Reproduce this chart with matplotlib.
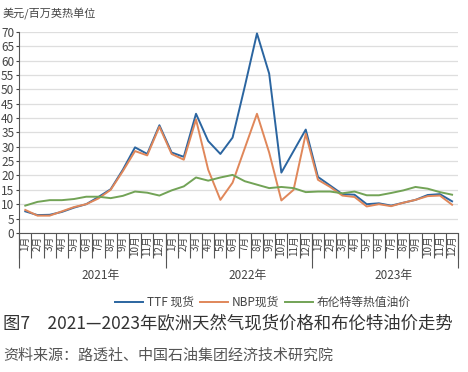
import matplotlib.pyplot as plt
import numpy as np

plt.rcParams['font.family'] = ['Noto Sans CJK SC', 'DejaVu Sans']

# 数据（美元/百万英热单位），2021年1月—2023年12月
months = [f"{m}月" for m in range(1, 13)] * 3
years = ["2021年", "2022年", "2023年"]
ttf = [7.5, 6.2, 6.3, 7.3, 8.8, 10.0, 12.5, 15.2, 22.0, 29.8, 27.5, 37.5,
       28.0, 26.5, 41.5, 32.0, 27.5, 33.2, 51.0, 69.5, 55.5, 21.0, 28.5, 36.0,
       19.5, 16.5, 13.5, 13.3, 10.0, 10.3, 9.5, 10.5, 11.5, 13.2, 13.5, 11.0]
nbp = [8.0, 6.0, 6.0, 7.5, 9.0, 10.0, 12.0, 15.0, 21.5, 28.5, 27.0, 37.0,
       27.5, 25.5, 39.5, 22.0, 11.5, 17.5, 29.5, 41.5, 28.0, 11.3, 15.0, 34.5,
       18.5, 16.0, 13.0, 12.5, 9.2, 10.0, 9.3, 10.5, 11.5, 12.8, 13.0, 9.8]
brent = [9.5, 10.8, 11.4, 11.4, 11.8, 12.6, 12.6, 12.1, 12.9, 14.4, 14.0, 13.0,
         14.8, 16.2, 19.3, 18.2, 19.3, 20.2, 18.0, 16.8, 15.6, 16.0, 15.6, 14.2,
         14.4, 14.4, 13.8, 14.4, 13.1, 13.1, 13.9, 14.8, 16.0, 15.4, 14.2, 13.3]

x = np.arange(len(months))

fig = plt.figure(figsize=(4.68, 3.72), dpi=100)
ax = fig.add_axes([0.041, 0.374, 0.938, 0.54])

ax.plot(x, ttf, color='#2b65a0', lw=1.4, label='TTF 现货')
ax.plot(x, nbp, color='#e0875a', lw=1.4, label='NBP现货')
ax.plot(x, brent, color='#72a356', lw=1.4, label='布伦特等热值油价')

ax.set_xlim(-0.5, len(months) - 0.5)
ax.set_ylim(0, 70)
ax.set_yticks(np.arange(0, 71, 5))
ax.yaxis.grid(True, color='#dedede', lw=0.9)
ax.set_axisbelow(True)
for s in ['top', 'right']:
    ax.spines[s].set_visible(False)
ax.spines['left'].set_color('#555555')
ax.spines['bottom'].set_color('#555555')
ax.tick_params(axis='y', labelsize=8.5, length=2.5, pad=1, colors='#444444')

# 月份标签 + 月份分隔线
ax.set_xticks(x)
ax.set_xticklabels(months, rotation=90, fontsize=7, color='#444444')
ax.tick_params(axis='x', which='major', length=0, pad=2)
ax.set_xticks(np.arange(-0.5, len(months), 1), minor=True)
ax.tick_params(axis='x', which='minor', length=18, width=0.8, color='#555555')

# 年份标签 + 年份分隔线
sec = ax.secondary_xaxis('bottom')
sec.spines['bottom'].set_visible(False)
sec.set_xticks(np.arange(-0.5, len(months), 12))
sec.set_xticklabels([])
sec.tick_params(axis='x', which='major', length=25, width=0.8, color='#555555')
sec.set_xticks(np.arange(len(years)) * 12 + 6.2, minor=True)
sec.set_xticklabels(years, minor=True, fontsize=8.5, color='#444444')
sec.tick_params(axis='x', which='minor', length=0, pad=26)

ax.legend(loc='upper center', bbox_to_anchor=(0.555, -0.262), ncol=3,
          frameon=False, fontsize=8.5, handlelength=2.4, handletextpad=0.3,
          columnspacing=0.5, labelcolor='#444444')

fig.text(0.006, 0.962, '美元/百万英热单位', fontsize=8, color='#444444', va='center')
fig.text(0.006, 0.128, '图7　2021—2023年欧洲天然气现货价格和布伦特油价走势',
         fontsize=12.5, color='#333333', va='center')
fig.text(0.006, 0.045, '资料来源：路透社、中国石油集团经济技术研究院',
         fontsize=10.8, color='#555555', va='center')

fig.savefig('out.png', dpi=100)
